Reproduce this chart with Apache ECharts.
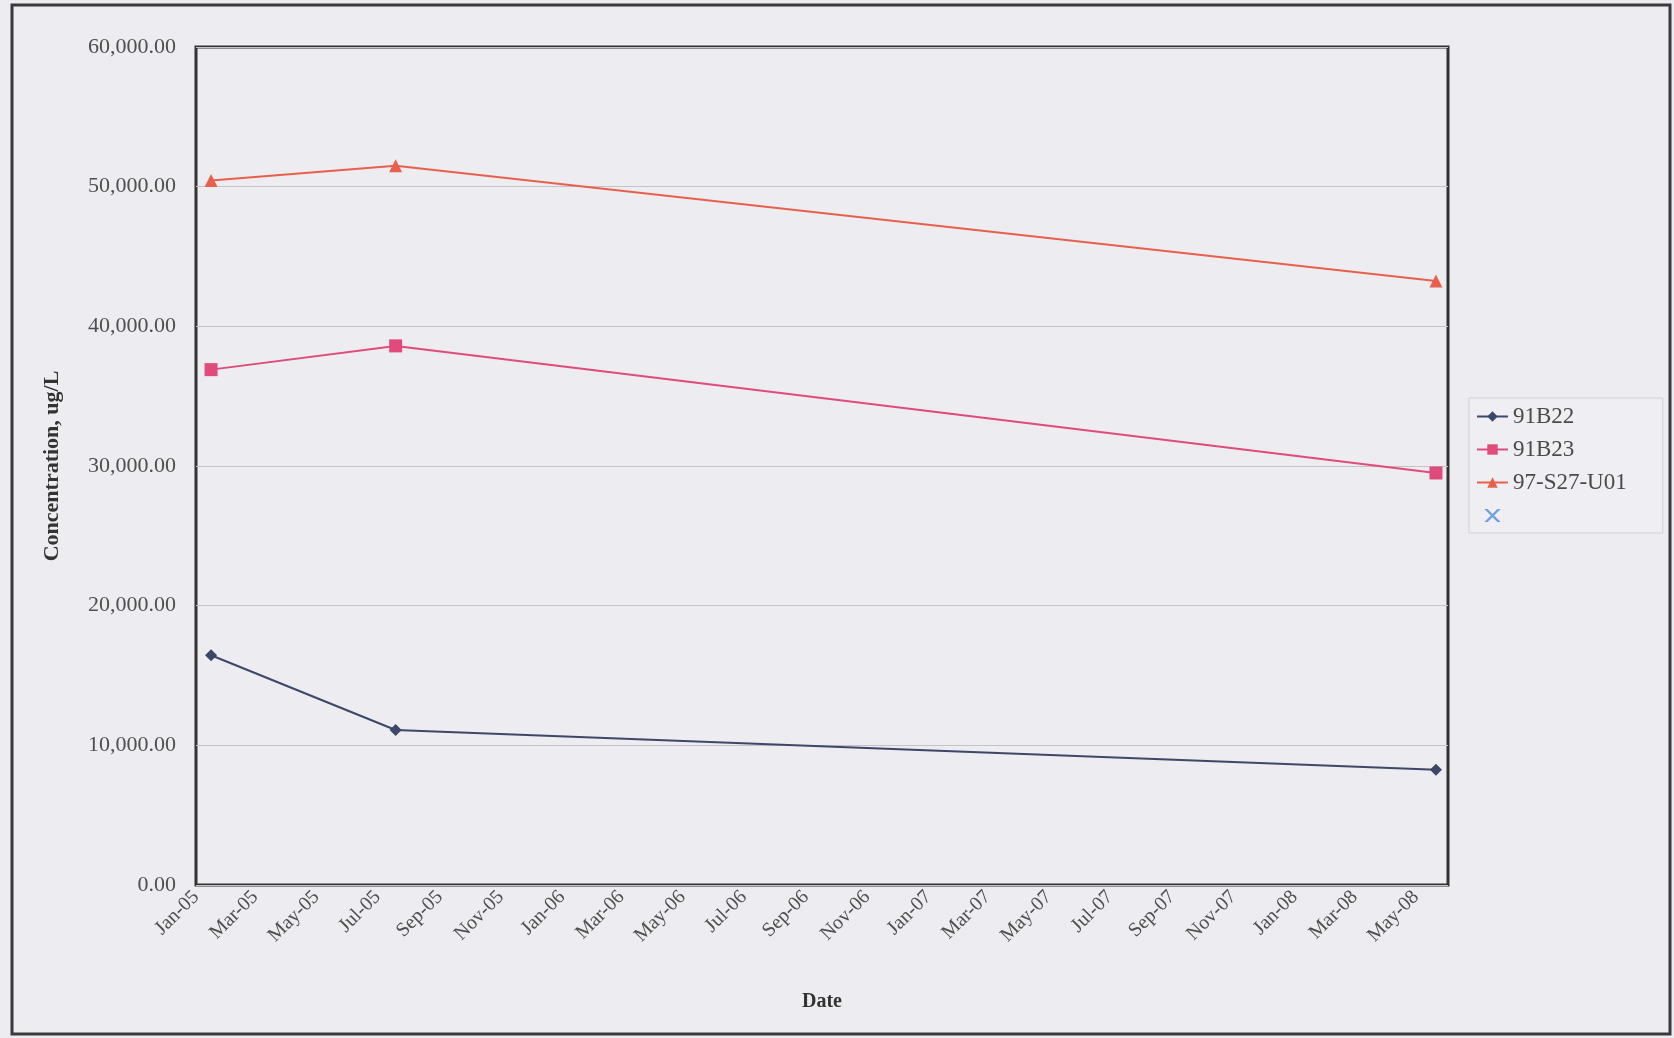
<!DOCTYPE html>
<html>
<head>
<meta charset="utf-8">
<script src="https://cdn.jsdelivr.net/npm/echarts@6/dist/echarts.min.js"></script>
<style>
  html, body { margin: 0; padding: 0; background: #ececf1; }
  #chart { width: 1674px; height: 1038px; }
</style>
</head>
<body>
<div id="chart"></div>
<script>
const SAMPLE_DATES = ["2005-01-16", "2005-07-19", "2008-05-21"];
const SERIES_NAMES = ["91B22", "91B23", "97-S27-U01"];
const VALUES_91B22 = [16450, 11100, 8250];
const VALUES_91B23 = [36900, 38600, 29500];
const VALUES_97S27 = [50450, 51500, 43250];
const TICK_LABELS = [
  "Jan-05", "Mar-05", "May-05", "Jul-05", "Sep-05", "Nov-05",
  "Jan-06", "Mar-06", "May-06", "Jul-06", "Sep-06", "Nov-06",
  "Jan-07", "Mar-07", "May-07", "Jul-07", "Sep-07", "Nov-07",
  "Jan-08", "Mar-08", "May-08",
];
const TICK_DATES = [
  "2005-01-01", "2005-03-01", "2005-05-01", "2005-07-01", "2005-09-01", "2005-11-01",
  "2006-01-01", "2006-03-01", "2006-05-01", "2006-07-01", "2006-09-01", "2006-11-01",
  "2007-01-01", "2007-03-01", "2007-05-01", "2007-07-01", "2007-09-01", "2007-11-01",
  "2008-01-01", "2008-03-01", "2008-05-01",
];
const X_MIN = "2005-01-01";
const X_MAX = "2008-06-02";
const Y_TICKS = [0, 10000, 20000, 30000, 40000, 50000, 60000];

const FONT = "'Liberation Serif', 'Times New Roman', serif";
const COLORS = ["#3c4868", "#e04b7c", "#e8604c"];
const DAY = 86400000;

// days since X_MIN, so the x axis is a plain value axis
function toDay(text) {
  const [y, m, d] = text.split("-").map(Number);
  const [y0, m0, d0] = X_MIN.split("-").map(Number);
  return Math.round((Date.UTC(y, m - 1, d) - Date.UTC(y0, m0 - 1, d0)) / DAY);
}

const tickDays = TICK_DATES.map(toDay);
const tickLabelMap = {};
tickDays.forEach((t, i) => { tickLabelMap[t] = TICK_LABELS[i]; });

function pairs(values) {
  return SAMPLE_DATES.map((d, i) => [toDay(d), values[i]]);
}

function lineSeries(name, values, color, symbol, size) {
  return {
    name,
    type: "line",
    data: pairs(values),
    symbol,
    symbolSize: size,
    color,
    lineStyle: { color, width: 2 },
    itemStyle: { color },
  };
}

const chart = echarts.init(document.getElementById("chart"));

chart.setOption({
  backgroundColor: "#ececf1",
  animation: false,
  grid: { left: 196, right: 226, top: 47, bottom: 153, show: true, borderColor: "#333", borderWidth: 3, backgroundColor: "#ececf1" },
  xAxis: {
    type: "value",
    min: 0,
    max: toDay(X_MAX),
    name: "Date",
    nameLocation: "middle",
    nameGap: 107,
    nameTextStyle: { fontFamily: FONT, fontSize: 20, fontWeight: "bold", color: "#333" },
    axisLine: { show: false },
    axisTick: { show: false },
    splitLine: { show: false },
    axisLabel: {
      customValues: tickDays,
      rotate: 45,
      margin: 9,
      fontFamily: FONT,
      fontSize: 20,
      color: "#4f4f4f",
      formatter: (value) => tickLabelMap[value] || "",
    },
  },
  yAxis: {
    type: "value",
    min: Y_TICKS[0],
    max: Y_TICKS[Y_TICKS.length - 1],
    interval: 10000,
    name: "Concentration, ug/L",
    nameLocation: "middle",
    nameGap: 133,
    nameTextStyle: { fontFamily: FONT, fontSize: 22, fontWeight: "bold", color: "#333" },
    axisLine: { show: false },
    axisTick: { show: false },
    splitLine: { lineStyle: { color: "#c4c4c8", width: 1 } },
    axisLabel: {
      margin: 20,
      fontFamily: FONT,
      fontSize: 22,
      color: "#4f4f4f",
      formatter: (value) => value.toLocaleString("en-US", { minimumFractionDigits: 2, maximumFractionDigits: 2 }),
    },
  },
  legend: {
    orient: "vertical",
    left: 1469,
    top: 398,
    padding: [7, 36, 6, 7],
    itemGap: 10,
    itemWidth: 31,
    itemHeight: 13,
    backgroundColor: "#efeff3",
    borderColor: "#d2d2d6",
    borderWidth: 1,
    textStyle: { fontFamily: FONT, fontSize: 23, color: "#4a4a4a" },
    data: [
      { name: SERIES_NAMES[0] },
      { name: SERIES_NAMES[1] },
      { name: SERIES_NAMES[2] },
      { name: " " },
    ],
  },
  graphic: [
    {
      type: "rect",
      shape: { x: 12, y: 5, width: 1658, height: 1029 },
      style: { fill: null, stroke: "#3a3a3a", lineWidth: 3 },
      silent: true,
    },
  ],
  series: [
    lineSeries(SERIES_NAMES[0], VALUES_91B22, COLORS[0], "diamond", 12),
    lineSeries(SERIES_NAMES[1], VALUES_91B23, COLORS[1], "rect", 13),
    lineSeries(SERIES_NAMES[2], VALUES_97S27, COLORS[2], "triangle", 13),
    {
      name: " ",
      type: "scatter",
      data: [],
      symbol: "path://M0,0L2,0L5,3L8,0L10,0L6,4L10,8L8,8L5,5L2,8L0,8L4,4Z",
      symbolSize: 13,
      itemStyle: { color: "#4a8fd6" },
    },
  ],
});
</script>
</body>
</html>
